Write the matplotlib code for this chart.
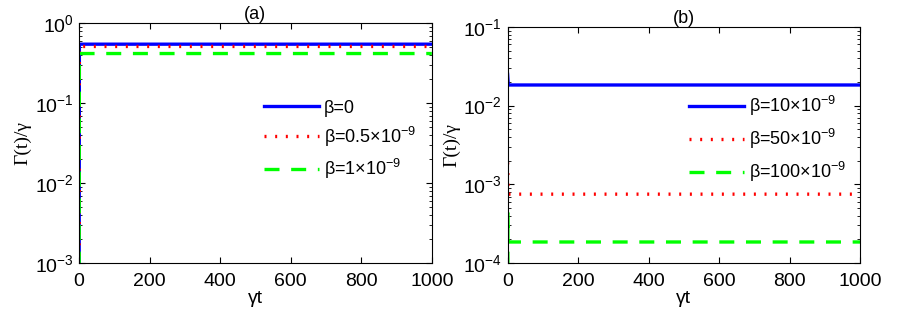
import matplotlib
matplotlib.use('Agg')
import matplotlib.pyplot as plt

plt.rcParams['font.family'] = ['Liberation Sans', 'DejaVu Sans']
plt.rcParams['mathtext.fontset'] = 'custom'
plt.rcParams['mathtext.rm'] = 'Liberation Sans'
plt.rcParams['mathtext.it'] = 'Liberation Sans'
plt.rcParams['font.size'] = 13

# panel (a)
t_a = [0, 1, 1000]
g_a0 = [1e-5, 0.55, 0.55]
g_a05 = [1e-5, 0.515, 0.515]
g_a1 = [1e-5, 0.42, 0.42]
labels_a = ['β=0', 'β=0.5×10$^{-9}$', 'β=1×10$^{-9}$']

# panel (b)
t_b10 = [0, 2, 1000]
g_b10 = [0.025, 0.0183, 0.0183]
t_b50 = [0, 2, 1000]
g_b50 = [1.9e-3, 7.5e-4, 7.5e-4]
t_b100 = [0, 1, 2, 1000]
g_b100 = [1e-6, 4.3e-4, 1.85e-4, 1.85e-4]
labels_b = ['β=10×10$^{-9}$', 'β=50×10$^{-9}$', 'β=100×10$^{-9}$']

fig = plt.figure(figsize=(9, 3.19), dpi=100)
ax1 = fig.add_axes([0.0878, 0.1755, 0.392, 0.751])
ax2 = fig.add_axes([0.564, 0.1755, 0.392, 0.740])

def style(ax, ylim, title):
    ax.set_yscale('log')
    ax.set_xlim(0, 1000)
    ax.set_ylim(*ylim)
    ax.set_xticks([0, 200, 400, 600, 800, 1000])
    ax.tick_params(which='both', direction='in', top=True, right=True, labelsize=14)
    ax.tick_params(which='major', length=4, width=0.8)
    ax.tick_params(which='minor', length=2, width=0.6)
    ax.tick_params(axis='x', pad=7)
    ax.tick_params(axis='y', pad=4)
    ax.set_xlabel('γt', fontsize=14, labelpad=0)
    ax.set_ylabel('Γ(t)/γ', fontsize=14, family=['Liberation Serif', 'DejaVu Serif'], labelpad=2)
    ax.set_title(title, fontsize=13, pad=1)

ax1.plot(t_a, g_a0, color='#0000ff', lw=2.4, label=labels_a[0])
ax1.plot(t_a, g_a05, color='#ff0000', lw=2.4, linestyle=(0, (0.6, 2.6)), label=labels_a[1])
ax1.plot(t_a, g_a1, color='#00ff00', lw=2.4, linestyle=(0, (4.5, 3.5)), label=labels_a[2])
style(ax1, (1e-3, 1), '(a)')
ax1.legend(loc='upper left', bbox_to_anchor=(0.50, 0.72), frameon=False, borderpad=0,
           handlelength=3.0, handletextpad=0.3, labelspacing=0.45, fontsize=13)

ax2.plot(t_b10, g_b10, color='#0000ff', lw=2.4, label=labels_b[0])
ax2.plot(t_b50, g_b50, color='#ff0000', lw=2.4, linestyle=(0, (0.6, 2.6)), label=labels_b[1])
ax2.plot(t_b100, g_b100, color='#00ff00', lw=2.4, linestyle=(0, (4.5, 3.5)), label=labels_b[2])
style(ax2, (1e-4, 1e-1), '(b)')
ax2.legend(loc='upper left', bbox_to_anchor=(0.49, 0.755), frameon=False, borderpad=0,
           handlelength=3.0, handletextpad=0.3, labelspacing=0.5, fontsize=13)

fig.savefig('out.png', dpi=100)
